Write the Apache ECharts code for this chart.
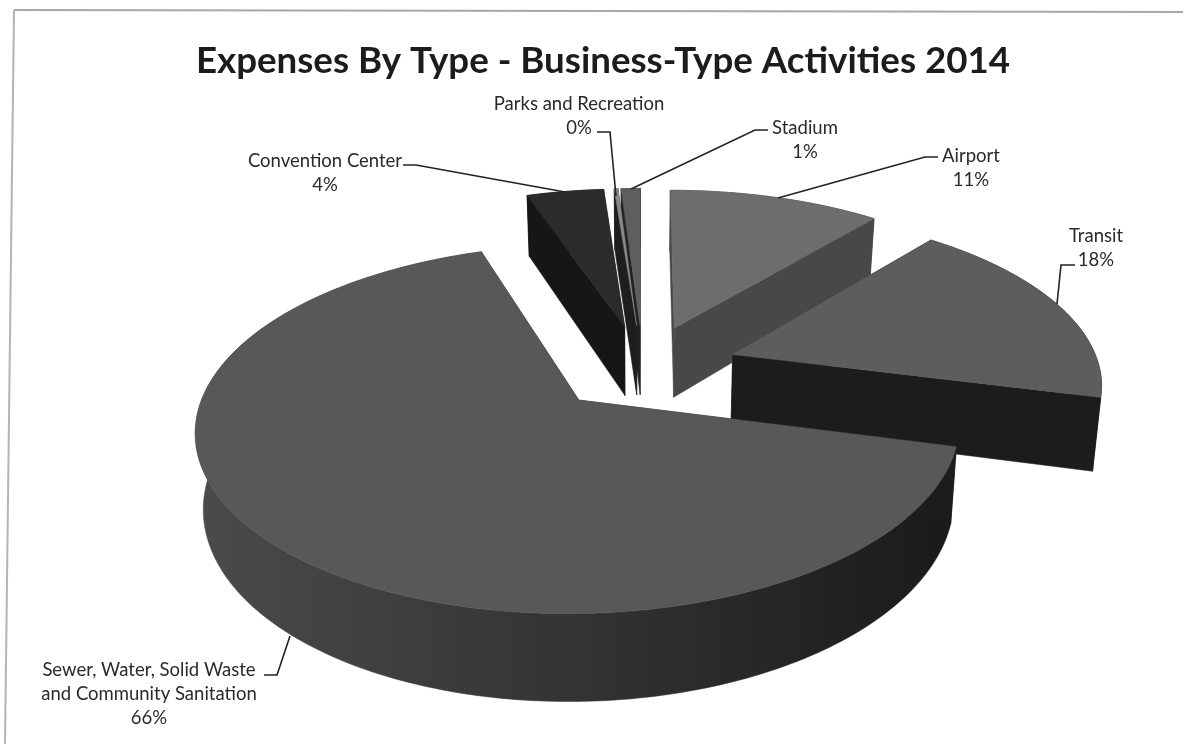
<!DOCTYPE html>
<html>
<head>
<meta charset="utf-8">
<title>Expenses By Type - Business-Type Activities 2014</title>
<style>
  html, body { margin: 0; padding: 0; background: #fff; }
  #chart { width: 1183px; height: 744px; }
</style>
<script src="https://cdn.jsdelivr.net/npm/echarts@6/dist/echarts.min.js"></script>
</head>
<body>
<div id="chart"></div>
<script>
// Expense categories, clockwise from twelve o'clock, and their share of the total (percent).
var categories = ['Airport', 'Transit', 'Sewer, Water, Solid Waste\nand Community Sanitation', 'Convention Center', 'Parks and Recreation', 'Stadium'];
var shares = [11.0, 18.0, 65.8, 4.0, 0.2, 1.0];

// Back-to-front paint order for the exploded slices.
var paintOrder = [0, 5, 4, 3, 1, 2];

// Per-slice shading of the grayscale print: top face, cut walls, outer wall.
var sliceStyles = [
  { top: '#6d6d6d', wall: '#484848', rim: ['#3a3a3a', '#3a3a3a'] },
  { top: '#5d5d5d', wall: '#1c1c1c', rim: ['#1c1c1c', '#1c1c1c'] },
  { top: '#585858', wall: '#1c1c1c', rim: ['#4b4b4b', '#333333', '#1a1a1a'] },
  { top: '#2b2b2b', wall: '#161616', rim: ['#161616', '#161616'] },
  { top: '#8a8a8a', wall: '#1e1e1e', rim: ['#1e1e1e', '#1e1e1e'] },
  { top: '#5e5e5e', wall: '#222222', rim: ['#222222', '#222222'] }
];

// Oblique projection of the unit pie onto the page.
var view = {
  cx: 643, cy: 368,      // page position of the undisplaced pie centre
  rx: 367, ry: 170,      // horizontal and vertical radii
  perspX: 0.15,          // horizontal foreshortening towards the back of the pie
  perspY: 0.153,         // vertical foreshortening towards the back of the pie
  explode: [0.26, 0.26, 0.25, 0.26, 0.26, 0.26], // slice displacement in radii
  depth: 72,             // wall height
  taper: 0.018           // horizontal shrink of the lower face
};

// Label placement: text centre, leader start, elbow and where it meets the slice.
var labelLayout = [
  { x: 971, y: 156, start: [938, 157], elbow: [925, 157], end: [778, 198] },
  { x: 1096, y: 236, start: [1075, 265], elbow: [1061, 265], end: [1057, 304] },
  { x: 149, y: 670, start: [264, 675], elbow: [277, 675], end: [290, 636] },
  { x: 325, y: 161, start: [403, 165], elbow: [416, 165], end: [565, 192] },
  { x: 579, y: 104, start: [597, 132], elbow: [610, 132], end: [616, 196] },
  { x: 805, y: 128, start: [768, 130], elbow: [755, 130], end: [631, 189] }
];

var total = shares.reduce(function (a, b) { return a + b; }, 0);
var sliceAngles = [];
shares.reduce(function (acc, value) {
  var next = acc + value / total * Math.PI * 2;
  sliceAngles.push([acc, next]);
  return next;
}, 0);

function project(angle, radius, bisector, explode, z) {
  var u = radius * Math.sin(angle) + explode * Math.sin(bisector);
  var v = radius * Math.cos(angle) + explode * Math.cos(bisector);
  var sx = 1 / (1 + view.perspX * v);
  var sy = 1 / (1 + view.perspY * v);
  var x = u * view.rx * sx * (1 - view.taper * z);
  return [view.cx + x, view.cy - v * view.ry * sy + z * view.depth * sy];
}

function poly(points, fill, z2) {
  return {
    type: 'polygon',
    z2: z2,
    shape: { points: points },
    style: { fill: fill, stroke: fill, lineWidth: 0.5 }
  };
}

function rimFill(stops) {
  return {
    type: 'linear', x: 0, y: 0, x2: 1, y2: 0,
    colorStops: stops.map(function (c, i) {
      return { offset: i / (stops.length - 1), color: c };
    })
  };
}

function renderSlice(params, api) {
  var idx = api.value(0);
  var a0 = sliceAngles[idx][0], a1 = sliceAngles[idx][1];
  var mid = (a0 + a1) / 2;
  var ex = view.explode[idx];
  var st = sliceStyles[idx];
  var point = function (angle, radius, z) { return project(angle, radius, mid, ex, z); };
  var arc = function (z) {
    var n = Math.max(2, Math.ceil((a1 - a0) / 0.02));
    var pts = [];
    for (var i = 0; i <= n; i++) {
      pts.push(point(a0 + (a1 - a0) * i / n, 1, z));
    }
    return pts;
  };
  var apexTop = point(0, 0, 0), apexBot = point(0, 0, 1);
  var wall = function (a) {
    return [apexTop, point(a, 1, 0), point(a, 1, 1), apexBot];
  };
  var rimTop = arc(0);
  var rimBot = arc(1).reverse();
  var walls = [a0, a1].sort(function (p, q) { return Math.cos(q) - Math.cos(p); });

  // Outer wall first, then the two cut walls, and the top face over them.
  return {
    type: 'group',
    children: [
      poly(rimTop.concat(rimBot), rimFill(st.rim), 1),
      poly(wall(walls[0]), st.wall, 2),
      poly(wall(walls[1]), st.wall, 3),
      poly([apexTop].concat(rimTop), st.top, 4)
    ]
  };
}

function renderLabel(params, api) {
  var idx = api.value(0);
  var l = labelLayout[idx];
  var lines = categories[idx].split('\n');
  var pct = Math.round(shares[idx]) + '%';
  var children = [{
    type: 'polyline',
    shape: { points: [l.start, l.elbow, l.end] },
    style: { stroke: '#222', lineWidth: 1.6, fill: null }
  }];
  lines.concat([pct]).forEach(function (line, i) {
    children.push({
      type: 'text',
      x: l.x,
      y: l.y + i * 24,
      style: {
        text: line, fill: '#2a2a2a',
        font: '18.5px Lato, "Open Sans", sans-serif',
        align: 'center', verticalAlign: 'middle'
      }
    });
  });
  return { type: 'group', children: children };
}

var chart = echarts.init(document.getElementById('chart'), null, { renderer: 'canvas' });
chart.setOption({
  backgroundColor: '#fff',
  animation: false,
  title: {
    text: 'Expenses By Type - Business-Type Activities 2014',
    left: 598, top: 38, textAlign: 'center',
    textStyle: { fontFamily: 'Lato, sans-serif', fontWeight: 'bold', fontSize: 36.7, color: '#1c1c1c' }
  },
  graphic: [
    { type: 'line', shape: { x1: 14, y1: 10, x2: 1183, y2: 12 }, style: { stroke: '#a8a8a8', lineWidth: 2 } },
    { type: 'line', shape: { x1: 14, y1: 10, x2: 5, y2: 744 }, style: { stroke: '#b4b4b4', lineWidth: 2 } }
  ],
  series: [
    {
      type: 'custom',
      coordinateSystem: 'none',
      silent: true,
      data: paintOrder.map(function (i) { return [i, shares[i]]; }),
      renderItem: renderSlice
    },
    {
      type: 'custom',
      coordinateSystem: 'none',
      silent: true,
      z: 3,
      data: categories.map(function (c, i) { return [i, shares[i]]; }),
      renderItem: renderLabel
    }
  ]
});
</script>
</body>
</html>
